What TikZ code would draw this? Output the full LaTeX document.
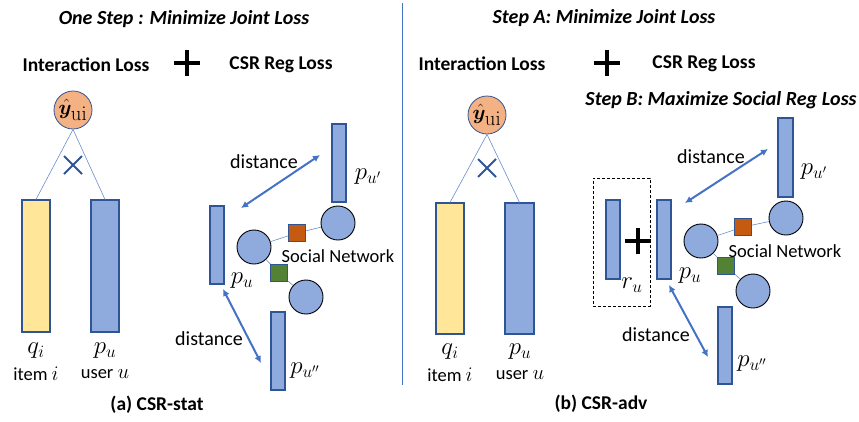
\documentclass[tikz,border=0pt]{standalone}
\usepackage[no-math]{fontspec}
\setmainfont{Carlito}
\usepackage{amsmath}
\usepackage{bm}
\usetikzlibrary{arrows.meta,positioning,shapes.misc}

\definecolor{barblue}{HTML}{8FAADC}
\definecolor{barline}{HTML}{2F5597}
\definecolor{itemyellow}{HTML}{FFE699}
\definecolor{predpink}{HTML}{F4B183}
\definecolor{linkblue}{HTML}{4472C4}
\definecolor{sqorange}{HTML}{C55A11}
\definecolor{sqgreen}{HTML}{548235}

\begin{document}
\begin{tikzpicture}[x=1pt,y=-1pt,
  every node/.style={font=\fontsize{18.5}{21}\selectfont},
  vecbar/.style={draw=barline, fill=barblue, line width=1.2pt, inner sep=0, minimum width=14, minimum height=78},
  itembar/.style={vecbar, fill=itemyellow},
  pred/.style={circle, draw=barline, fill=predpink, line width=0.8pt, minimum size=38, inner sep=0, font=\fontsize{22}{22}\selectfont},
  friend/.style={circle, draw=black, fill=barblue, line width=0.9pt, minimum size=34, inner sep=0},
  tie/.style={draw=barline, line width=1pt, minimum size=17, inner sep=0},
  link/.style={linkblue!80, line width=0.6pt},
  dist/.style={{Latex[length=7pt,width=7pt]}-{Latex[length=7pt,width=7pt]}, linkblue, line width=2pt},
  distlab/.style={font=\fontsize{20}{22}\selectfont},
  mlab/.style={font=\fontsize{23}{24}\selectfont},
  heading/.style={font=\fontsize{19.5}{22}\selectfont\bfseries},
  steptitle/.style={font=\fontsize{20}{22}\selectfont\bfseries\itshape},
  plussign/.style={cross out, rotate=45, draw=black, line width=4.5pt, minimum size=13.5, inner sep=0},
  mult/.style={cross out, draw=barline, line width=2pt, minimum size=16, inner sep=0}]
\useasboundingbox (0,0) rectangle (859,421);

% ---------------- (a) CSR-stat ----------------
\node[steptitle] (titleA) at (184,19) {One Step : Minimize Joint Loss};
\node[heading] (lossA) at (86,65) {Interaction Loss};
\node[plussign] (plusA) at (187,63) {};
\node[heading] (regA) at (281,65) {CSR Reg Loss};

% prediction from item and user vectors
\node[pred] (yA) at (73,110) {$\hat{\bm{y}}_{\textstyle\mathrm{ui}}$};
\node[itembar, minimum width=28, minimum height=132] (qA) at (36,266) {};
\node[vecbar, minimum width=28, minimum height=132] (pA) at (105,266) {};
\draw[link] (yA.south) -- (qA.north);
\draw[link] (yA.south) -- (pA.north);
\node[mult] (xA) at (73,165) {};
\node[mlab] (qlabA) at (36,351) {$q_i$};
\node (itemA) at (36,374) {item {\fontsize{21}{21}\selectfont$i$}};
\node[mlab] (plabA) at (105,351) {$p_u$};
\node (userA) at (105,374) {user {\fontsize{21}{21}\selectfont$u$}};

% social neighbours
\node[vecbar] (pu1A) at (339,163) {};
\node[vecbar] (puA) at (217,245) {};
\node[vecbar] (pu2A) at (278,351) {};
\node[mlab] (pu1labA) at (368,177) {$p_{u'}$};
\node[mlab] (pulabA) at (242,281) {$p_u$};
\node[mlab] (pu2labA) at (305,371) {$p_{u''}$};

\node[friend] (f1A) at (254,247) {};
\node[friend] (f2A) at (338,223) {};
\node[friend] (f3A) at (306,297) {};
\node[tie, fill=sqorange] (sqoA) at (297,233) {};
\node[tie, fill=sqgreen] (sqgA) at (279,273) {};
\draw[link] (f1A) -- (sqoA) -- (f2A);
\draw[link] (f1A) -- (sqgA) -- (f3A);
\node (snA) at (338,256) {Social Network};

% distances
\coordinate (d1sA) at (241,208);
\coordinate (d1eA) at (320,155);
\coordinate (d2sA) at (223,289);
\coordinate (d2eA) at (261,363);
\draw[dist] (d1sA) -- (d1eA);
\draw[dist] (d2sA) -- (d2eA);
\node[distlab] (dist1A) at (264,162) {distance};
\node[distlab] (dist2A) at (209,339) {distance};

\node[heading] (capA) at (157,405) {(a) CSR-stat};

% separator
\coordinate (sepTop) at (402,3);
\coordinate (sepBot) at (402,385);
\draw[linkblue, line width=0.8pt] (sepTop) -- (sepBot);

% ---------------- (b) CSR-adv ----------------
\node[steptitle] (titleB) at (604,18) {Step A: Minimize Joint Loss};
\node[heading] (lossB) at (482,64) {Interaction Loss};
\node[plussign] (plusB) at (607,63) {};
\node[heading] (regB) at (704,64) {CSR Reg Loss};
\node[steptitle] (stepB) at (721,100) {Step B: Maximize Social Reg Loss};

% prediction from item and user vectors
\node[pred] (yB) at (487,115) {$\hat{\bm{y}}_{\textstyle\mathrm{ui}}$};
\node[itembar, minimum width=28, minimum height=131] (qB) at (450,268.5) {};
\node[vecbar, minimum width=29, minimum height=131] (pB) at (519.5,268.5) {};
\draw[link] (yB.south) -- (qB.north);
\draw[link] (yB.south) -- (pB.north);
\node[mult] (xB) at (487,168) {};
\node[mlab] (qlabB) at (450,352) {$q_i$};
\node (itemB) at (450,375) {item {\fontsize{21}{21}\selectfont$i$}};
\node[mlab] (plabB) at (520,352) {$p_u$};
\node (userB) at (520,375) {user {\fontsize{21}{21}\selectfont$u$}};

% perturbed user vector
\node[draw, dash pattern=on 3pt off 2pt, line width=0.9pt, minimum width=57, minimum height=128, inner sep=0] (advbox) at (621.5,242) {};
\node[vecbar, minimum height=79] (ruB) at (613,239.5) {};
\node[mlab] (rulabB) at (632,285) {$r_u$};
\node[plussign, minimum size=14] (plusR) at (638,241) {};

% social neighbours
\node[vecbar, minimum height=79] (puB) at (664,239.5) {};
\node[vecbar, minimum width=15, minimum height=79] (pu1B) at (785.5,157.5) {};
\node[vecbar, minimum height=77] (pu2B) at (725,345.5) {};
\node[mlab] (pulabB) at (690,276) {$p_u$};
\node[mlab] (pu1labB) at (814,172) {$p_{u'}$};
\node[mlab] (pu2labB) at (752,364) {$p_{u''}$};

\node[friend] (f1B) at (701,241) {};
\node[friend] (f2B) at (786,218) {};
\node[friend] (f3B) at (753,291) {};
\node[tie, fill=sqorange] (sqoB) at (743,227) {};
\node[tie, fill=sqgreen] (sqgB) at (726,266) {};
\draw[link] (f1B) -- (sqoB) -- (f2B);
\draw[link] (f1B) -- (sqgB) -- (f3B);
\node (snB) at (785,251) {Social Network};

% distances
\coordinate (d1sB) at (685,203);
\coordinate (d1eB) at (768,149);
\coordinate (d2sB) at (669,285);
\coordinate (d2eB) at (708,357);
\draw[dist] (d1sB) -- (d1eB);
\draw[dist] (d2sB) -- (d2eB);
\node[distlab] (dist1B) at (711,157) {distance};
\node[distlab] (dist2B) at (656,335) {distance};

\node[heading] (capB) at (601,404) {(b) CSR-adv};
\end{tikzpicture}
\end{document}
